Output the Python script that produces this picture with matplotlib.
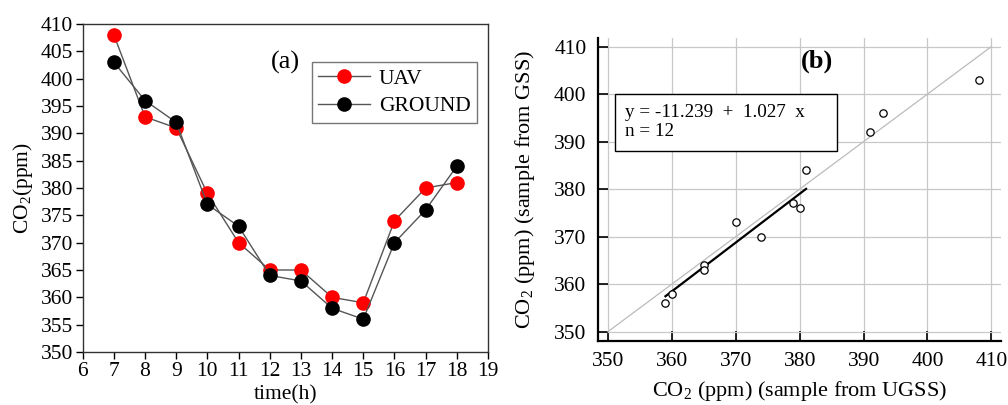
import numpy as np
import matplotlib
matplotlib.use("Agg")
import matplotlib.pyplot as plt
from matplotlib.patches import Rectangle

plt.rcParams['font.family'] = ['Liberation Serif', 'DejaVu Serif']
plt.rcParams['mathtext.fontset'] = 'custom'
plt.rcParams['mathtext.rm'] = 'Liberation Serif'

hours = [7, 8, 9, 10, 11, 12, 13, 14, 15, 16, 17, 18]
uav = [408, 393, 391, 379, 370, 365, 365, 360, 359, 374, 380, 381]
ground = [403, 396, 392, 377, 373, 364, 363, 358, 356, 370, 376, 384]
fit_intercept = -11.239
fit_slope = 1.027
fit_x_range = [359, 381]
xticks_a = list(range(6, 20))
yticks_a = list(range(350, 411, 5))
ticks_b = list(range(350, 411, 10))

fig = plt.figure(figsize=(10.08, 4.05), dpi=100)

def fx(px):
    return px / 1008

def fy(py):
    return 1 - py / 405

# Panel (a)
ax1 = fig.add_axes([fx(82.7), fy(352), (488-82.7)/1008, (352-24)/405])
ax1.plot(hours, uav, '-', color='#555555', lw=1.0, marker='o', ms=9.5,
         mfc='red', mec='red', label='UAV', zorder=2)
ax1.plot(hours, ground, '-', color='#555555', lw=1.0, marker='o', ms=9.5,
         mfc='black', mec='black', label='GROUND', zorder=3)
ax1.set_xlim(6, 19)
ax1.set_ylim(350, 410)
ax1.set_xticks(xticks_a)
ax1.set_yticks(yticks_a)
ax1.tick_params(labelsize=15.5, direction='out', length=5, width=1, pad=2)
for s in ax1.spines.values():
    s.set_linewidth(1.0)
    s.set_color('#333333')
ax1.set_xlabel('time(h)', fontsize=15.5, labelpad=3)
ax1.set_ylabel('CO$_2$(ppm)', fontsize=15.5, labelpad=4)
fig.text(fx(285), fy(62), '(a)', fontsize=19, ha='center', va='center')
leg = ax1.legend(loc='upper left', bbox_to_anchor=((312-82.7)/(488-82.7), 1-(62-24)/(352-24)),
                 fontsize=15.5, frameon=True, fancybox=False, edgecolor='#555555',
                 handlelength=2.4, borderpad=0.3, labelspacing=0.35, handletextpad=0.4,
                 borderaxespad=0)
leg.get_frame().set_linewidth(1.0)

# Panel (b)
ax2 = fig.add_axes([fx(597.7), fy(340.7), (1001-597.7)/1008, (340.7-38)/405])
ax2.set_xlim(348.4, 411.5)
ax2.set_ylim(348.1, 411.8)
ax2.set_xticks(ticks_b)
ax2.set_yticks(ticks_b)
ax2.grid(True, color='#c8c8c8', lw=0.9)
ax2.set_axisbelow(True)
ax2.plot([350, 410], [350, 410], color='#bbbbbb', lw=0.9, zorder=1)
xs = np.array(fit_x_range)
ax2.plot(xs, fit_intercept + fit_slope * xs, color='black', lw=1.6, zorder=2)
ax2.scatter(uav, ground, s=28, facecolors='white', edgecolors='black', linewidths=0.9, zorder=3)
for side in ['top', 'right']:
    ax2.spines[side].set_visible(False)
for side in ['left', 'bottom']:
    ax2.spines[side].set_linewidth(1.6)
ax2.tick_params(labelsize=15.5, direction='in', length=7, width=1.2, pad=8)
ax2.set_xlabel('CO$_2$ (ppm) (sample from UGSS)', fontsize=16, labelpad=6)
ax2.set_ylabel('CO$_2$ (ppm) (sample from GSS)', fontsize=16, labelpad=12)
ax2.text(382.7, 406.8, '(b)', fontsize=19, fontweight='bold', ha='center', va='center')
ax2.add_patch(Rectangle((351.1, 388.1), 34.8, 11.9, facecolor='white',
                        edgecolor='black', lw=1.0, zorder=4))
ax2.text(352.6, 394.1, 'y = -11.239  +  1.027  x\nn = 12', fontsize=13.8,
         ha='left', va='center', linespacing=1.1, zorder=5)

fig.savefig('out.png', dpi=100)
